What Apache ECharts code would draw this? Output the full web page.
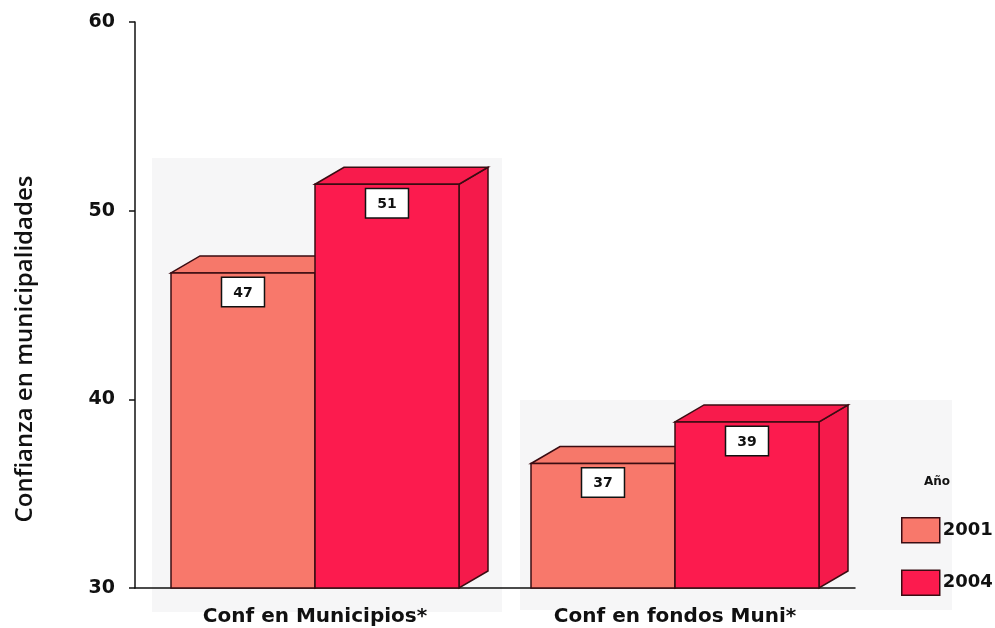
<!DOCTYPE html>
<html>
<head>
<meta charset="utf-8">
<script src="https://cdn.jsdelivr.net/npm/echarts@6/dist/echarts.min.js"></script>
<style>
  html, body { margin: 0; padding: 0; background: #fff; }
  #chart { width: 995px; height: 628px; }
</style>
</head>
<body>
<div id="chart"></div>
<script>
// datos
const categories = ["Conf en Municipios*", "Conf en fondos Muni*"];
const years = ["2001", "2004"];
const values2001 = [46.7, 36.6];
const values2004 = [51.4, 38.8];
const yTicks = [30, 40, 50, 60];

const yMin = yTicks[0];
const yMax = yTicks[yTicks.length - 1];

// colores: frente, tapa, lado
const palette = [
  { front: "#F8786B", top: "#F6786A", side: "#F5766A" },
  { front: "#FC1B4E", top: "#F81B4C", side: "#F51A4B" }
];

const depthX = 29;
const depthY = 17;
const edge = "#3a0c12";

function make3dBar(seriesIdx) {
  const c = palette[seriesIdx];
  return function (params, api) {
    const band = api.size([1, 0])[0];
    const w = band * 0.4;
    const topPt = api.coord([api.value(0), api.value(1)]);
    const basePt = api.coord([api.value(0), yMin]);
    const left = seriesIdx === 0 ? topPt[0] - w : topPt[0];
    const right = left + w;
    const top = topPt[1];
    const base = basePt[1];
    const lineStyle = { stroke: edge, lineWidth: 1.5 };
    return {
      type: "group",
      children: [
        {
          type: "polygon",
          shape: { points: [[right, top], [right + depthX, top - depthY], [right + depthX, base - depthY], [right, base]] },
          style: Object.assign({ fill: c.side }, lineStyle)
        },
        {
          type: "polygon",
          shape: { points: [[left, top], [left + depthX, top - depthY], [right + depthX, top - depthY], [right, top]] },
          style: Object.assign({ fill: c.top }, lineStyle)
        },
        {
          type: "rect",
          shape: { x: left, y: top, width: w, height: base - top },
          style: Object.assign({ fill: c.front }, lineStyle)
        },
        {
          type: "text",
          x: (left + right) / 2,
          y: top + 5,
          style: {
            text: String(Math.round(api.value(1))),
            align: "center",
            verticalAlign: "top",
            font: "bold 14px 'DejaVu Sans', sans-serif",
            fill: "#111",
            backgroundColor: "#fff",
            borderColor: "#111",
            borderWidth: 1.5,
            padding: [8, 11, 6, 11]
          }
        }
      ]
    };
  };
}

const myChart = echarts.init(document.getElementById("chart"), null, { renderer: "canvas" });

const option = {
  animation: false,
  backgroundColor: "#fff",
  grid: { left: 135, right: 140, top: 22, bottom: 40 },
  title: {
    text: "Año",
    left: 924,
    top: 476,
    padding: 0,
    textStyle: { fontFamily: "DejaVu Sans", fontWeight: "bold", fontSize: 12, color: "#111" }
  },
  legend: {
    orient: "vertical",
    left: 896,
    top: 512,
    itemWidth: 38,
    itemHeight: 25,
    itemGap: 26,
    icon: "rect",
    data: years,
    itemStyle: { borderColor: "#3a0c12", borderWidth: 1.5 },
    textStyle: { fontFamily: "DejaVu Sans", fontWeight: "bold", fontSize: 18, color: "#111", padding: [0, 0, 0, -2] }
  },
  graphic: [
    // panel gris claro de fondo (escaneo)
    { type: "rect", z: -1, shape: { x: 152, y: 158, width: 350, height: 454 }, style: { fill: "#f6f6f7" } },
    { type: "rect", z: -1, shape: { x: 520, y: 400, width: 432, height: 210 }, style: { fill: "#f6f6f7" } },
    {
      type: "text",
      x: 25,
      y: 349,
      rotation: Math.PI / 2,
      style: {
        text: "Confianza en municipalidades",
        align: "center",
        verticalAlign: "middle",
        font: "600 24px 'Open Sans', sans-serif",
        fill: "#111"
      }
    }
  ],
  xAxis: {
    type: "category",
    data: categories,
    axisLine: { lineStyle: { color: "#111", width: 1.5 } },
    axisTick: { alignWithLabel: true, length: 8, lineStyle: { color: "#111", width: 1.5 } },
    axisLabel: {
      margin: 19,
      fontFamily: "DejaVu Sans",
      fontWeight: "bold",
      fontSize: 20,
      color: "#111"
    }
  },
  yAxis: {
    type: "value",
    min: yMin,
    max: yMax,
    interval: 10,
    splitLine: { show: false },
    axisLine: { show: true, lineStyle: { color: "#111", width: 1.5 } },
    axisTick: { show: true, length: 6, lineStyle: { color: "#111", width: 1.5 } },
    axisLabel: {
      margin: 20,
      fontFamily: "DejaVu Sans",
      fontWeight: "bold",
      fontSize: 19,
      color: "#111",
      formatter: function (v) { return yTicks.indexOf(v) >= 0 ? String(v) : ""; }
    }
  },
  series: [
    {
      name: years[0],
      type: "custom",
      renderItem: make3dBar(0),
      itemStyle: { color: palette[0].front },
      encode: { x: 0, y: 1 },
      data: values2001.map(function (v, i) { return [i, v]; })
    },
    {
      name: years[1],
      type: "custom",
      renderItem: make3dBar(1),
      itemStyle: { color: palette[1].front },
      encode: { x: 0, y: 1 },
      data: values2004.map(function (v, i) { return [i, v]; })
    }
  ]
};

option && myChart.setOption(option);
</script>
</body>
</html>
